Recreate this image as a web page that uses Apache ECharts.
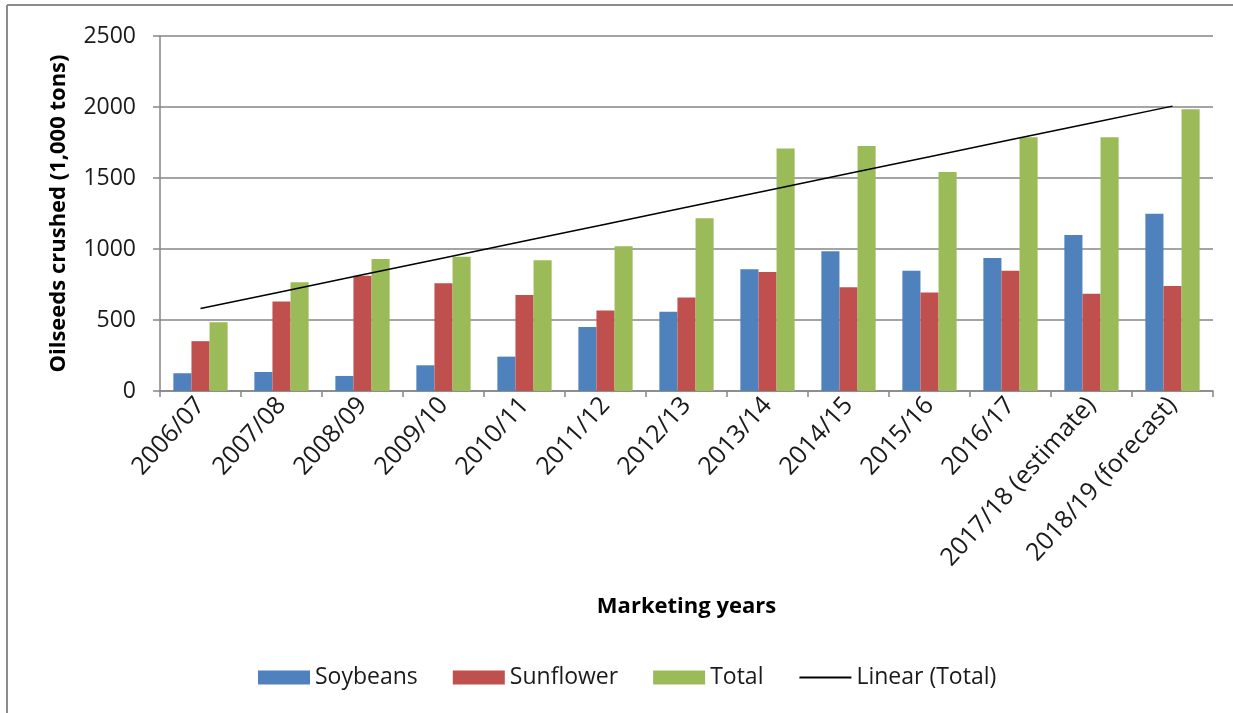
<!DOCTYPE html>
<html>
<head>
<meta charset="utf-8">
<script src="https://cdn.jsdelivr.net/npm/echarts@6/dist/echarts.min.js"></script>
<style>
  html, body { margin: 0; padding: 0; background: #fff; }
  #chart { width: 1233px; height: 713px; }
</style>
</head>
<body>
<div id="chart"></div>
<script>
// Marketing years on the category axis
const years = [
  '2006/07', '2007/08', '2008/09', '2009/10', '2010/11', '2011/12', '2012/13',
  '2013/14', '2014/15', '2015/16', '2016/17', '2017/18 (estimate)', '2018/19 (forecast)'
];

// Oilseeds crushed, thousand tons
const soybeans  = [125, 134, 106, 181, 242, 450, 558, 857, 984, 847, 937, 1099, 1248];
const sunflower = [351, 631, 812, 758, 676, 567, 659, 838, 730, 694, 847, 685, 739];
const total     = [485, 765, 930, 946, 920, 1019, 1217, 1707, 1726, 1542, 1787, 1787, 1984];

const yTicks = { min: 0, max: 2500, step: 500 };

// Least-squares linear trend of the totals over the year index
function linearTrend(values) {
  const n = values.length;
  const xs = values.map((_, i) => i + 1);
  const mx = xs.reduce((a, b) => a + b, 0) / n;
  const my = values.reduce((a, b) => a + b, 0) / n;
  let sxy = 0, sxx = 0;
  for (let i = 0; i < n; i++) {
    sxy += (xs[i] - mx) * (values[i] - my);
    sxx += (xs[i] - mx) * (xs[i] - mx);
  }
  const slope = sxy / sxx;
  return xs.map(x => my + slope * (x - mx));
}
const trend = linearTrend(total);

const FONT = '"Open Sans", sans-serif';
const AXIS_GREY = '#868686';

const chart = echarts.init(document.getElementById('chart'), null, { renderer: 'canvas' });

chart.setOption({
  backgroundColor: '#ffffff',
  animation: false,
  textStyle: { fontFamily: FONT },
  graphic: [
    { type: 'line', shape: { x1: 7, y1: 5, x2: 1233, y2: 5 }, style: { stroke: '#8c8c8c', lineWidth: 2 } },
    { type: 'line', shape: { x1: 7, y1: 5, x2: 7, y2: 713 }, style: { stroke: '#8c8c8c', lineWidth: 2 } }
  ],
  grid: { left: 160, right: 20, top: 36, bottom: 322, containLabel: false },
  legend: {
    left: 253,
    top: 661,
    itemWidth: 52,
    itemHeight: 14,
    itemGap: 35,
    textStyle: { fontFamily: FONT, fontSize: 23, color: '#1a1a1a' },
    data: [
      { name: 'Soybeans', icon: 'rect' },
      { name: 'Sunflower', icon: 'rect' },
      { name: 'Total', icon: 'rect' },
      { name: 'Linear (Total)', itemStyle: { opacity: 0 } }
    ]
  },
  xAxis: {
    type: 'category',
    data: years,
    boundaryGap: true,
    name: 'Marketing years',
    nameLocation: 'middle',
    nameGap: 205,
    nameTextStyle: { fontFamily: FONT, fontSize: 22, fontWeight: 'bold', color: '#000' },
    axisLine: { lineStyle: { color: AXIS_GREY, width: 1.5 } },
    axisTick: { show: true, alignWithLabel: false, length: 6, lineStyle: { color: AXIS_GREY, width: 1.5 } },
    axisLabel: { rotate: 48, fontFamily: FONT, fontSize: 25, color: '#1a1a1a', margin: 10, interval: 0 }
  },
  yAxis: {
    type: 'value',
    min: yTicks.min,
    max: yTicks.max,
    interval: yTicks.step,
    name: 'Oilseeds crushed (1,000 tons)',
    nameLocation: 'middle',
    nameGap: 90,
    nameTextStyle: { fontFamily: FONT, fontSize: 22, fontWeight: 'bold', color: '#000' },
    axisLine: { show: true, lineStyle: { color: AXIS_GREY, width: 1.5 } },
    axisTick: { show: true, length: 7, lineStyle: { color: AXIS_GREY, width: 1.5 } },
    axisLabel: {
      fontFamily: FONT, fontSize: 23, color: '#1a1a1a', margin: 24,
      formatter: v => String(v)
    },
    splitLine: { show: true, lineStyle: { color: AXIS_GREY, width: 1.5 } }
  },
  series: [
    {
      name: 'Soybeans', type: 'bar', data: soybeans,
      barGap: '0%', barCategoryGap: '33%',
      itemStyle: { color: '#4F81BD' }
    },
    {
      name: 'Sunflower', type: 'bar', data: sunflower,
      barGap: '0%', barCategoryGap: '33%',
      itemStyle: { color: '#C0504D' }
    },
    {
      name: 'Total', type: 'bar', data: total,
      barGap: '0%', barCategoryGap: '33%',
      itemStyle: { color: '#9BBB59' }
    },
    {
      name: 'Linear (Total)', type: 'line', data: trend,
      symbol: 'none', showSymbol: false, smooth: false,
      lineStyle: { color: '#000000', width: 1.5 },
      itemStyle: { color: '#000000' },
      z: 5
    }
  ]
});
</script>
</body>
</html>
